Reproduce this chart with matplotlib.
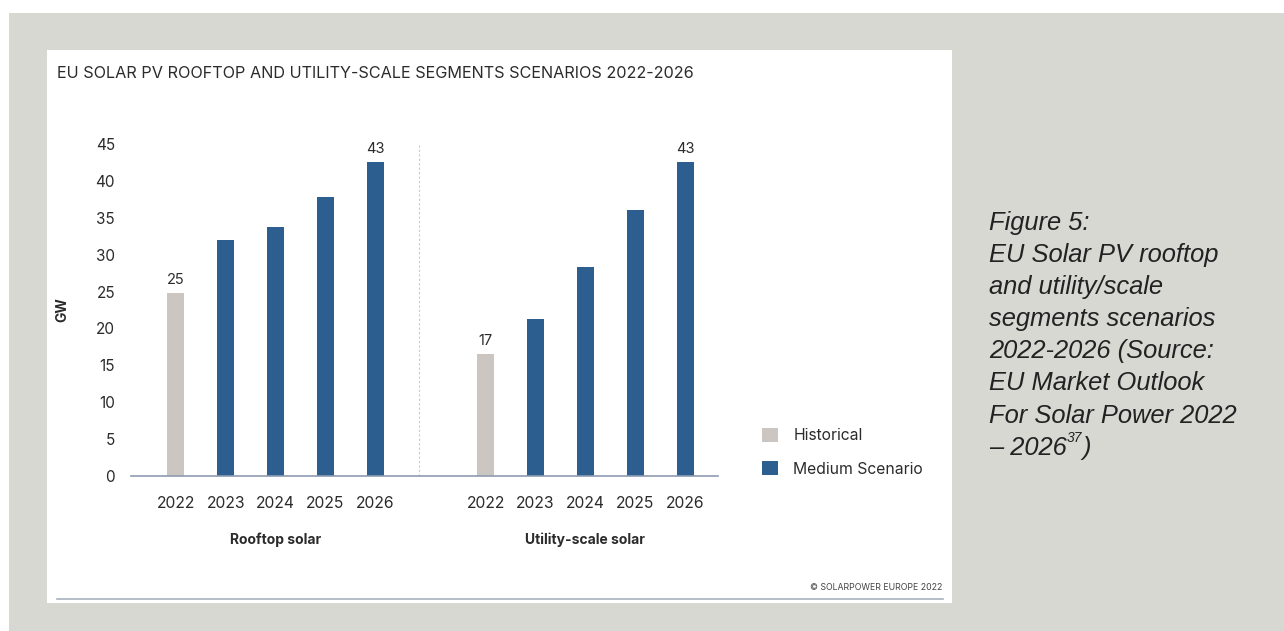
import matplotlib
matplotlib.use("Agg")
import matplotlib.pyplot as plt
from matplotlib.patches import Rectangle, Patch
from matplotlib.lines import Line2D
from matplotlib.text import Annotation

# ---- data ----
years = ["2022", "2023", "2024", "2025", "2026"]
rooftop_gw = [24.8, 32.0, 33.7, 37.8, 42.6]
utility_gw = [16.6, 21.3, 28.3, 36.1, 42.6]
historical_flags = [True, False, False, False, False]
segments = ["Rooftop solar", "Utility-scale solar"]
y_ticks = [0, 5, 10, 15, 20, 25, 30, 35, 40, 45]
labelled = {"rooftop": [0, 4], "utility": [0, 4]}

# ---- styling ----
W, H = 1284, 631
BG = "#d7d8d2"
BLUE = "#2c5f8f"
GREY = "#cbc6c2"
AXIS = "#8d9cb0"
TXT = "#2b2b2b"
FONT = ["Inter", "DejaVu Sans"]
plt.rcParams["font.family"] = FONT


def fx(px):
    return px / W


def fy(py):
    return 1 - py / H


fig = plt.figure(figsize=(W / 100, H / 100), dpi=100, facecolor=BG)

# page framing: white top/left margins and white chart panel
fig.add_artist(Rectangle((0, fy(13)), 1, 13 / H, transform=fig.transFigure,
                         facecolor="white", edgecolor="none", zorder=0))
fig.add_artist(Rectangle((0, 0), fx(9), 1, transform=fig.transFigure,
                         facecolor="white", edgecolor="none", zorder=0))
fig.add_artist(Rectangle((fx(47), fy(603)), fx(952 - 47), (603 - 50) / H,
                         transform=fig.transFigure, facecolor="white",
                         edgecolor="none", zorder=0))
fig.add_artist(Line2D([fx(57), fx(943)], [fy(599), fy(599)],
                      transform=fig.transFigure, color="#a7b1bf", lw=1.2))

# ---- axes ----
ax = fig.add_axes([fx(131), fy(476), fx(718 - 131), (476 - 144) / H])
ax.set_facecolor("none")

spacing = 1.0
roof_x = [i * spacing for i in range(len(years))]
util_x = [6.22 + i * spacing for i in range(len(years))]
bw = 0.34

roof_colors = [GREY if h else BLUE for h in historical_flags]
util_colors = [GREY if h else BLUE for h in historical_flags]
ax.bar(roof_x, rooftop_gw, width=bw, color=roof_colors, zorder=2)
ax.bar(util_x, utility_gw, width=bw, color=util_colors, zorder=2)

for i in labelled["rooftop"]:
    ax.annotate(f"{rooftop_gw[i]:.0f}", (roof_x[i], rooftop_gw[i]),
                xytext=(0, 4), textcoords="offset points", ha="center",
                va="bottom", fontsize=10.5, color=TXT)
for i in labelled["utility"]:
    ax.annotate(f"{utility_gw[i]:.0f}", (util_x[i], utility_gw[i]),
                xytext=(0, 4), textcoords="offset points", ha="center",
                va="bottom", fontsize=10.5, color=TXT)

ax.set_xlim(-0.9, 10.88)
ax.set_ylim(0, 45)
ax.set_yticks(y_ticks)
ax.set_yticklabels([str(t) for t in y_ticks])
ax.set_xticks(roof_x + util_x)
ax.set_xticklabels(years + years)
ax.tick_params(axis="y", length=0, pad=11.5, labelsize=11, labelcolor=TXT)
ax.tick_params(axis="x", length=0, pad=14.5, labelsize=11.3, labelcolor=TXT)
for s in ["top", "right", "left"]:
    ax.spines[s].set_visible(False)
ax.spines["bottom"].set_color(AXIS)
ax.spines["bottom"].set_linewidth(1.2)

# divider between the two segments
div_x = 4.88
ax.plot([div_x, div_x], [0, 45], color="#c9c9c9", lw=0.8,
        linestyle=(0, (2, 2)), zorder=1)

# segment labels
ax.text(2, -0.193, segments[0], transform=ax.get_xaxis_transform(),
        ha="center", va="center", fontsize=10, fontweight="bold", color=TXT)
ax.text(util_x[2], -0.193, segments[1], transform=ax.get_xaxis_transform(),
        ha="center", va="center", fontsize=10, fontweight="bold", color=TXT)

fig.text(fx(62), fy(310), "GW", rotation=90, ha="center", va="center",
         fontsize=10, fontweight="bold", color=TXT)

# title and credit
fig.text(fx(57), fy(74), "EU SOLAR PV ROOFTOP AND UTILITY-SCALE SEGMENTS SCENARIOS 2022-2026",
         ha="left", va="center", fontsize=11.7, color=TXT)
fig.text(fx(942), fy(588), "© SOLARPOWER EUROPE 2022", ha="right", va="center",
         fontsize=6.3, color="#444444")

# legend
handles = [Patch(facecolor=GREY, edgecolor="none", label="Historical"),
           Patch(facecolor=BLUE, edgecolor="none", label="Medium Scenario")]
fig.legend(handles=handles, loc="upper left", bbox_to_anchor=(fx(762), fy(428)),
           frameon=False, fontsize=11.3, handlelength=1.0, handleheight=1.0,
           handletextpad=1.0, labelspacing=1.15, borderpad=0, borderaxespad=0,
           labelcolor=TXT)

# side caption
CAP = ["Liberation Sans", "DejaVu Sans"]
CAP_SIZE = 18.4
cap_lines = ["Figure 5:", "EU Solar PV rooftop", "and utility/scale",
             "segments scenarios", "2022-2026 (Source:", "EU Market Outlook",
             "For Solar Power 2022"]
y0, dy = 223, 32.1
for k, line in enumerate(cap_lines):
    fig.text(fx(989), fy(y0 + k * dy), line, ha="left", va="center",
             fontsize=CAP_SIZE, style="italic", family=CAP, color="#222222")
last = fig.text(fx(989), fy(y0 + 7 * dy), "– 2026", ha="left", va="center",
                fontsize=CAP_SIZE, style="italic", family=CAP, color="#222222")
sup = fig.add_artist(Annotation(
    "37", xy=(1.0, 0.6), xycoords=last, ha="left", va="bottom",
    fontsize=10, style="italic", family=CAP, color="#222222"))
fig.add_artist(Annotation(
    ")", xy=(1.0, 0.0), xycoords=(sup, last), ha="left", va="bottom",
    fontsize=CAP_SIZE, style="italic", family=CAP, color="#222222"))

fig.savefig("out.png", dpi=100, facecolor=BG)
